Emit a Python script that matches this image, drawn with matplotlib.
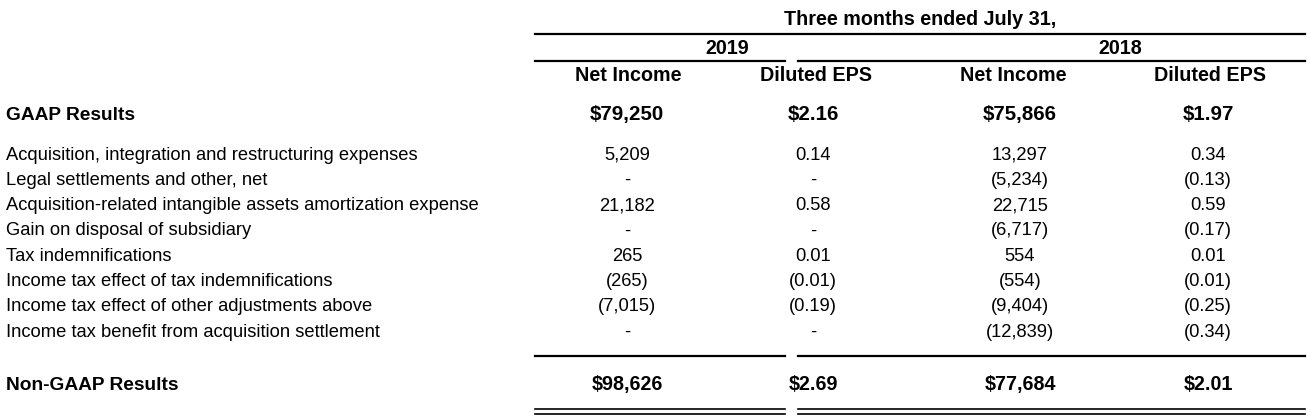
import matplotlib.pyplot as plt

# table content
row_labels = ['Acquisition, integration and restructuring expenses',
              'Legal settlements and other, net',
              'Acquisition-related intangible assets amortization expense',
              'Gain on disposal of subsidiary',
              'Tax indemnifications',
              'Income tax effect of tax indemnifications',
              'Income tax effect of other adjustments above',
              'Income tax benefit from acquisition settlement']
ni_2019 = ['5,209', '-', '21,182', '-', '265', '(265)', '(7,015)', '-']
eps_2019 = ['0.14', '-', '0.58', '-', '0.01', '(0.01)', '(0.19)', '-']
ni_2018 = ['13,297', '(5,234)', '22,715', '(6,717)', '554', '(554)', '(9,404)', '(12,839)']
eps_2018 = ['0.34', '(0.13)', '0.59', '(0.17)', '0.01', '(0.01)', '(0.25)', '(0.34)']

gaap = ['$79,250', '$2.16', '$75,866', '$1.97']
non_gaap = ['$98,626', '$2.69', '$77,684', '$2.01']
years = ['2019', '2018']
col_heads = ['Net Income', 'Diluted EPS', 'Net Income', 'Diluted EPS']

fig = plt.figure(figsize=(13.1, 4.2), dpi=100)
ax = fig.add_axes([0, 0, 1, 1])
ax.set_xlim(0, 1310)
ax.set_ylim(420, 0)
ax.axis('off')

head_x = [628, 816, 1013, 1210]
col_x = [627, 813, 1020, 1208]
# baseline placement so parentheses / dashes don't shift rows
hd = dict(family='Liberation Sans', fontweight='bold', fontsize=14.2, ha='center', va='baseline')
body = dict(family='Liberation Sans', fontsize=13.2, va='baseline')
off_hd = 7
off_body = 6.5

ax.text(920, 18 + off_hd, 'Three months ended July 31,', **hd)
ax.plot([535, 1305], [34, 34], color='black', lw=1.6)
ax.text(727, 47 + off_hd, years[0], **hd)
ax.text(1120, 47 + off_hd, years[1], **hd)
ax.plot([535, 785], [61, 61], color='black', lw=1.6)
ax.plot([798, 1305], [61, 61], color='black', lw=1.6)
for x, h in zip(head_x, col_heads):
    ax.text(x, 74 + off_hd, h, **hd)

lab = dict(body, fontweight='bold', fontsize=13.8, ha='left')
ax.text(6, 113 + off_hd, 'GAAP Results', **lab)
for x, v in zip(col_x, gaap):
    ax.text(x, 113 + off_hd, v, **dict(hd, fontsize=14.8))

for i in range(len(row_labels)):
    y = 153 + i * 25.3 + off_body
    ax.text(6, y, row_labels[i], ha='left', **body)
    for x, col in zip(col_x, [ni_2019, eps_2019, ni_2018, eps_2018]):
        ax.text(x, y, col[i], ha='center', **body)

for seg in [(535, 785), (798, 1305)]:
    ax.plot(seg, [356, 356], color='black', lw=1.6)
    ax.plot(seg, [409, 409], color='black', lw=1.2)
    ax.plot(seg, [413.5, 413.5], color='black', lw=1.2)

ax.text(6, 383 + off_hd, 'Non-GAAP Results', **lab)
for x, v in zip(col_x, non_gaap):
    ax.text(x, 383 + off_hd, v, **hd)

fig.savefig('out.png', dpi=100)
